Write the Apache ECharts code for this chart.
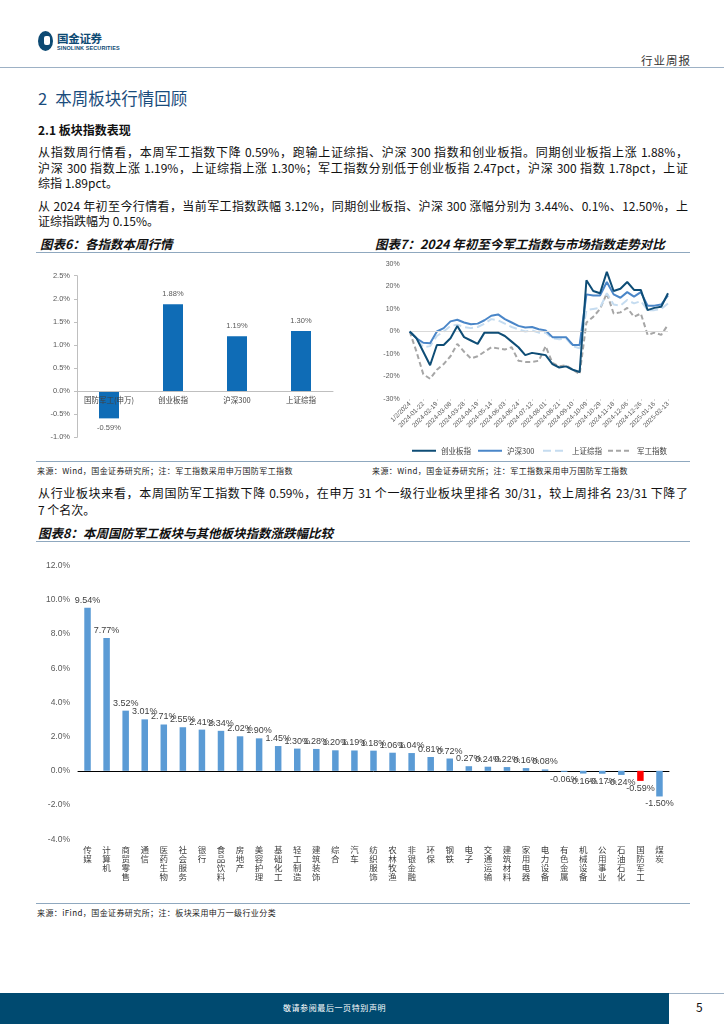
<!DOCTYPE html>
<html><head><meta charset="utf-8">
<script src="https://cdn.jsdelivr.net/npm/echarts@6/dist/echarts.min.js"></script>
<style>
body{margin:0;width:724px;height:1024px;position:relative;background:#fff;font-family:"Noto Sans CJK SC",sans-serif;overflow:hidden}
.a{position:absolute;white-space:nowrap}
.ln{position:absolute;height:0;border-top:1.5px solid #8fa8bf}
.p{position:absolute;left:38px;width:650px;font-size:12px;line-height:16px;color:#111;text-align:justify;text-align-last:justify}
.pl{position:absolute;left:38px;font-size:12px;line-height:16px;color:#111;white-space:nowrap}
.t{position:absolute;font-size:12.5px;font-weight:bold;font-style:italic;color:#111;line-height:16px;white-space:nowrap}
.src{position:absolute;font-size:8px;color:#222;line-height:10px;white-space:nowrap;letter-spacing:0.4px}
</style></head>
<body>
<!-- header -->
<div class="a" style="left:38px;top:31px;width:15px;height:20px;border-radius:50%;background:#0d4a73"></div>
<div class="a" style="left:44px;top:36px;width:6px;height:9px;border-radius:2px;background:#fff"></div>
<div class="a" style="left:57px;top:31px;font-size:11.5px;font-weight:bold;color:#0d4a73;line-height:14px;letter-spacing:-0.3px">国金证券</div>
<div class="a" style="left:57px;top:45px;font-size:5.5px;font-weight:bold;color:#0d4a73;line-height:6px;letter-spacing:0.1px;font-family:'Liberation Sans',sans-serif">SINOLINK SECURITIES</div>
<div class="a" style="left:641px;top:53px;font-size:11.5px;color:#333;line-height:14px;letter-spacing:1px">行业周报</div>
<div class="a" style="left:0;top:67px;width:724px;height:0;border-top:1px solid #9db1c5"></div>

<div class="a" style="left:38px;top:88px;font-size:16.5px;color:#1a4c7c;line-height:20px">2<span style="display:inline-block;width:8px"></span>本周板块行情回顾</div>
<div class="a" style="left:38px;top:122px;font-size:12px;font-weight:bold;color:#111;line-height:16px">2.1 板块指数表现</div>

<div class="p" style="top:144px">从指数周行情看，本周军工指数下降 0.59%，跑输上证综指、沪深 300 指数和创业板指。同期创业板指上涨 1.88%，</div>
<div class="p" style="top:160px">沪深 300 指数上涨 1.19%，上证综指上涨 1.30%；军工指数分别低于创业板指 2.47pct，沪深 300 指数 1.78pct，上证</div>
<div class="pl" style="top:175px">综指 1.89pct。</div>
<div class="p" style="top:198px">从 2024 年初至今行情看，当前军工指数跌幅 3.12%，同期创业板指、沪深 300 涨幅分别为 3.44%、0.1%、12.50%，上</div>
<div class="pl" style="top:213px">证综指跌幅为 0.15%。</div>

<div class="t" style="left:40px;top:236px">图表6：各指数本周行情</div>
<div class="t" style="left:375px;top:236px">图表7：2024 年初至今军工指数与市场指数走势对比</div>
<div class="ln" style="left:36px;top:252px;width:326px"></div>
<div class="ln" style="left:362px;top:252px;width:328px"></div>

<div id="c6" class="a" style="left:0;top:255px;width:362px;height:205px"></div>
<div id="c7" class="a" style="left:362px;top:255px;width:362px;height:205px"></div>

<div class="ln" style="left:36px;top:461px;width:326px"></div>
<div class="ln" style="left:362px;top:461px;width:328px"></div>
<div class="src" style="left:37px;top:466px">来源：Wind，国金证券研究所；注：军工指数采用申万国防军工指数</div>
<div class="src" style="left:372px;top:466px">来源：Wind，国金证券研究所；注：军工指数采用申万国防军工指数</div>

<div class="p" style="top:485px">从行业板块来看，本周国防军工指数下降 0.59%，在申万 31 个一级行业板块里排名 30/31，较上周排名 23/31 下降了</div>
<div class="pl" style="top:502px">7 个名次。</div>

<div class="t" style="left:38px;top:525px">图表8：本周国防军工板块与其他板块指数涨跌幅比较</div>
<div class="ln" style="left:36px;top:541px;width:654px"></div>

<div id="c8" class="a" style="left:0;top:550px;width:724px;height:350px"></div>

<div class="ln" style="left:36px;top:903px;width:654px"></div>
<div class="src" style="left:37px;top:908px">来源：iFind，国金证券研究所；注：板块采用申万一级行业分类</div>

<!-- footer -->
<div class="a" style="left:669px;top:993px;width:55px;height:0;border-top:1px solid #9db1c5"></div>
<div class="a" style="left:0;top:993px;width:669px;height:31px;background:#004a70"></div>
<div class="a" style="left:0;top:1003px;width:669px;text-align:center;font-size:8px;color:#fff;line-height:10px;letter-spacing:0.6px">敬请参阅最后一页特别声明</div>
<div class="a" style="left:696px;top:1000px;font-size:12px;color:#111;line-height:14px">5</div>

<script>
// ---- Chart 6 data ----
const c6Cats = ['国防军工(申万)', '创业板指', '沪深300', '上证综指'];
const c6Vals = [-0.59, 1.88, 1.19, 1.30];
const c6Ticks = [-1.0, -0.5, 0.0, 0.5, 1.0, 1.5, 2.0, 2.5];

// ---- Chart 7 data ----
const c7Dates = ['1/2/2024','2024-01-10','2024-01-22','2024-02-01','2024-02-19','2024-02-29','2024-03-08','2024-03-19',
  '2024-03-28','2024-04-09','2024-04-19','2024-04-29','2024-05-14','2024-05-24','2024-06-03','2024-06-13',
  '2024-06-24','2024-07-03','2024-07-12','2024-07-23','2024-08-01','2024-08-12','2024-08-21','2024-08-30',
  '2024-09-10','2024-09-23','2024-10-09','2024-10-18','2024-10-29','2024-11-07','2024-11-18','2024-11-27',
  '2024-12-06','2024-12-17','2024-12-26','2025-01-07','2025-01-16','2025-01-24','2025-02-13'];
const c7Names = ['创业板指', '沪深300', '上证综指', '军工指数'];
const cyb = [0,-3,-9,-15,-6,-6,-3,2.4,-2.5,-4,-5.5,-0.5,-0.5,-0.5,-2,-4.5,-7,-10.5,-9.5,-10,-10.5,-14.5,-16,-15.5,-17,-18,
  22.8,18,17,26.5,18,19,22,18.5,18.5,9.5,10.5,11,17];
const hs300 = [0,-3,-5,-5.2,0,1.5,4.5,5.2,4,3.2,3.5,5,7,7.6,5.5,4,2.5,1.8,2,1,0.5,-2.5,-2.5,-2.5,-6,-6,
  16.5,16,16,22,16.5,15,17.5,15.5,17.5,11.5,11.5,12,16];
const szzz = [0,-3,-7,-6.5,-2,0,2.5,3,2,1.5,2,3.5,5.5,5,3.5,2,1,0,0.5,-0.5,-0.5,-3,-3.5,-3,-6.5,-7.5,
  9.5,10,10.5,17,12,11.5,14,12.5,13.5,9.5,9.5,10,12.5];
const jgzs = [0,-9,-19,-21,-17,-14.5,-11,-5.5,-9,-12,-11,-9,-7,-7.5,-8,-7,-13,-13.5,-13.5,-13,-6.5,-14,-15.5,-15,-17,-19,
  4,6.5,10,17,8,8.5,10.5,6.5,8,-1.5,-0.5,-1.5,3];
const c7Ticks = [-30, -20, -10, 0, 10, 20, 30];

// ---- Chart 8 data ----
const c8Cats = ['传媒','计算机','商贸零售','通信','医药生物','社会服务','银行','食品饮料','房地产','美容护理','基础化工',
  '轻工制造','建筑装饰','综合','汽车','纺织服饰','农林牧渔','非银金融','环保','钢铁','电子','交通运输','建筑材料',
  '家用电器','电力设备','有色金属','机械设备','公用事业','石油石化','国防军工','煤炭'];
const c8Vals = [9.54,7.77,3.52,3.01,2.71,2.55,2.41,2.34,2.02,1.90,1.45,1.30,1.28,1.20,1.19,1.18,1.06,1.04,0.81,0.72,
  0.27,0.24,0.22,0.16,0.08,-0.06,-0.16,-0.17,-0.24,-0.59,-1.50];
const c8Highlight = '国防军工';
const c8Ticks = [-4, -2, 0, 2, 4, 6, 8, 10, 12];

const FONT = 'Liberation Sans';
const CJK = 'Noto Sans CJK SC';

// Chart 6
const ch6 = echarts.init(document.getElementById('c6'), null, {renderer: 'canvas'});
ch6.setOption({
  animation: false,
  grid: {left: 77, right: 29, top: 20.7, bottom: 22.7, outerBoundsMode: 'none', containLabel: false},
  xAxis: {
    type: 'category', data: c6Cats, z: 5,
    axisLine: {onZero: true, lineStyle: {color: '#bfbfbf'}},
    axisTick: {inside: true, length: 3, lineStyle: {color: '#bfbfbf'}},
    axisLabel: {fontSize: 7.5, color: '#404040', margin: -41, verticalAlign: 'top', fontFamily: CJK, interval: 0}
  },
  yAxis: {
    type: 'value', min: c6Ticks[0], max: c6Ticks[c6Ticks.length - 1], interval: 0.5,
    axisLine: {show: true, lineStyle: {color: '#bfbfbf'}},
    axisTick: {show: true, length: 3, lineStyle: {color: '#bfbfbf'}},
    splitLine: {show: false},
    axisLabel: {fontSize: 7.5, color: '#595959', margin: 7, fontFamily: FONT, formatter: v => v.toFixed(1) + '%'}
  },
  series: [{
    type: 'bar', barWidth: 20, z: 2,
    itemStyle: {color: '#0f6cb6'},
    data: c6Vals.map(v => ({value: v, label: {position: v < 0 ? 'bottom' : 'top'}})),
    label: {show: true, fontSize: 7.5, color: '#595959', fontFamily: FONT, distance: 6,
      formatter: p => p.value.toFixed(2) + '%'}
  }]
});

// Chart 7
const ch7 = echarts.init(document.getElementById('c7'), null, {renderer: 'canvas'});
const c7Colors = ['#0e4d76', '#4a86c8', '#c5dcf0', '#a6a6a6'];
const c7Types = ['solid', 'solid', [8, 4], [5, 3]];
const c7Data = [cyb, hs300, szzz, jgzs];
const legendLeft = [44, 110, 175, 240];
ch7.setOption({
  animation: false,
  legend: c7Names.map((n, i) => ({
    data: [n], left: legendLeft[i], top: 187, itemWidth: 24, itemHeight: 8, itemGap: 4,
    itemStyle: {opacity: 0},
    textStyle: {fontSize: 7.5, color: '#404040', fontFamily: CJK}
  })),
  grid: {left: 47.7, right: 56, top: 9, bottom: 61, outerBoundsMode: 'none', containLabel: false},
  xAxis: {
    type: 'category', data: c7Dates, boundaryGap: false,
    axisLine: {show: false, onZero: false},
    axisTick: {show: true, interval: 1, length: 2, lineStyle: {color: '#d9d9d9'}},
    axisLabel: {interval: 1, rotate: 45, fontSize: 6.5, color: '#595959', margin: 4, fontFamily: FONT}
  },
  yAxis: {
    type: 'value', min: c7Ticks[0], max: c7Ticks[c7Ticks.length - 1], interval: 10,
    axisLine: {show: false}, axisTick: {show: false}, splitLine: {show: false},
    axisLabel: {fontSize: 7, color: '#595959', margin: 10, fontFamily: FONT, formatter: v => v + '%'}
  },
  series: [{
    type: 'line', data: [], z: 1, silent: true,
    markLine: {silent: true, symbol: 'none', label: {show: false},
      lineStyle: {color: '#d9d9d9', type: 'solid', width: 1}, data: [{yAxis: 0}]}
  }].concat(c7Names.map((n, i) => ({
    name: n, type: 'line', data: c7Data[i], symbol: 'none', showSymbol: false, z: 5 - i,
    lineStyle: {color: c7Colors[i], width: 2, type: c7Types[i]},
    itemStyle: {color: c7Colors[i]}
  })))
});

// Chart 8
const ch8 = echarts.init(document.getElementById('c8'), null, {renderer: 'canvas'});
ch8.setOption({
  animation: false,
  grid: {left: 78, right: 55, top: 15.7, bottom: 60.8, outerBoundsMode: 'none', containLabel: false},
  xAxis: {
    type: 'category', data: c8Cats,
    axisLine: {onZero: true, lineStyle: {color: '#000', width: 1}},
    axisTick: {length: 3, lineStyle: {color: '#000'}},
    axisLabel: {interval: 0, margin: 6, fontSize: 8.5, lineHeight: 9, color: '#404040', fontFamily: CJK,
      verticalAlign: 'top', formatter: s => s.split('').join('\n')}
  },
  yAxis: {
    type: 'value', min: c8Ticks[0], max: c8Ticks[c8Ticks.length - 1], interval: 2,
    axisLine: {show: false}, axisTick: {show: false}, splitLine: {show: false},
    axisLabel: {fontSize: 8.5, color: '#595959', margin: 8, fontFamily: FONT, formatter: v => v.toFixed(1) + '%'}
  },
  series: [{
    type: 'bar', barWidth: 6.5,
    data: c8Vals.map((v, i) => ({
      value: v,
      itemStyle: {color: c8Cats[i] === c8Highlight ? '#ff0000' : '#5b9bd5'},
      label: {position: v < 0 ? 'bottom' : 'top'}
    })),
    label: {show: true, fontSize: 9, color: '#404040', fontFamily: FONT, distance: 3,
      formatter: p => p.value.toFixed(2) + '%'}
  }]
});
</script>
</body></html>
